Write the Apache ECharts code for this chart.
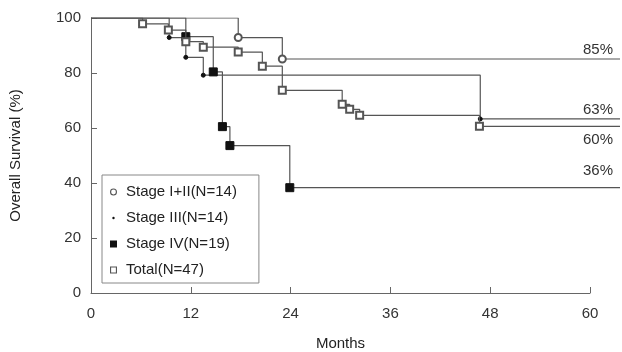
<!DOCTYPE html>
<html><head><meta charset="utf-8">
<script src="https://cdn.jsdelivr.net/npm/echarts@6/dist/echarts.min.js"></script>
<style>html,body{margin:0;padding:0;background:#fff}#c{width:622px;height:352px}</style>
</head><body><div id="c"></div>
<script>
// ---- data ----
const seriesNames = ['Stage I+II(N=14)', 'Stage III(N=14)', 'Stage IV(N=19)', 'Total(N=47)'];
const monthsStage12 = [0, 17.7, 23.0, 63.6];
const survStage12   = [100, 92.9, 85.1, 85.1];
const monthsStage3  = [0, 9.4, 11.4, 13.5, 46.8, 63.6];
const survStage3    = [100, 92.9, 85.7, 79.2, 63.3, 63.3];
const monthsStage4  = [0, 11.4, 14.7, 15.8, 16.7, 23.9, 63.6];
const survStage4    = [100, 93.2, 80.4, 60.5, 53.6, 38.3, 38.3];
const monthsTotal   = [0, 6.2, 9.3, 11.4, 13.5, 17.7, 20.6, 23.0, 30.2, 31.1, 32.3, 46.7, 63.6];
const survTotal     = [100, 97.9, 95.6, 91.4, 89.4, 87.6, 82.5, 73.7, 68.6, 66.8, 64.6, 60.6, 60.6];
const endLabels     = ['85%', '63%', '60%', '36%'];
const xTicks = [0, 12, 24, 36, 48, 60];
const yTicks = [0, 20, 40, 60, 80, 100];
const plotEndMonth = 63.6; // curves run a little past the last tick

const chart = echarts.init(document.getElementById('c'), null, {renderer: 'canvas'});
const lineColor = '#555';
const font = 'Liberation Sans, Arial, sans-serif';

function buildData(t, s) {
  return t.map((x, i) => {
    const d = {value: [x, s[i]]};
    if (i === 0 || i === t.length - 1) d.symbol = 'none';
    return d;
  });
}
const ringPath = 'path://M5,0A5,5,0,1,1,4.99,0ZM5,1.6A3.4,3.4,0,1,0,5.01,1.6Z';
const dotPath  = 'path://M0,0M10,10M5,3.3A1.7,1.7,0,1,1,4.99,3.3Z';
const sqPath   = 'path://M0,0H10V10H0Z';
const sqRing   = 'path://M0,0H10V10H0ZM1.6,1.6V8.4H8.4V1.6Z';
const styles = [
  {symbol: 'emptyCircle', symbolSize: 7, color: lineColor, icon: ringPath},
  {symbol: 'circle', symbolSize: 4, color: '#111', icon: dotPath},
  {symbol: 'rect', symbolSize: 8, color: '#111', icon: sqPath},
  {symbol: 'emptyRect', symbolSize: 7, color: lineColor, icon: sqRing}
];
const all = [[monthsStage12, survStage12], [monthsStage3, survStage3], [monthsStage4, survStage4], [monthsTotal, survTotal]];

const series = all.map((p, i) => ({
  name: seriesNames[i],
  type: 'line',
  step: 'end',
  xAxisIndex: 0, yAxisIndex: 0,
  data: buildData(p[0], p[1]),
  symbol: styles[i].symbol,
  symbolSize: styles[i].symbolSize,
  showAllSymbol: true,
  lineStyle: {color: lineColor, width: 1.2},
  itemStyle: {color: styles[i].color, borderColor: styles[i].color, borderWidth: 1},
  z: 2 + i
}));

chart.setOption({
  animation: false,
  backgroundColor: '#fff',
  grid: [
    {left: 91, right: 2, top: 18, bottom: 59, outerBoundsMode: 'none', containLabel: false},
    {left: 91, right: 32, top: 18, bottom: 59, outerBoundsMode: 'none', containLabel: false}
  ],
  legend: {
    orient: 'vertical', left: 102, top: 175,
    backgroundColor: '#fff', borderColor: '#888', borderWidth: 1,
    padding: [9, 22, 5, 8], itemGap: 10, itemWidth: 7, itemHeight: 7,
    textStyle: {fontFamily: font, fontSize: 15, color: '#222', lineHeight: 16, padding: [0, 0, 0, 4]},
    data: seriesNames.map((n, i) => ({name: n, icon: styles[i].icon, itemStyle: {color: styles[i].color, borderWidth: 0}}))
  },
  xAxis: [
    {type: 'value', gridIndex: 0, min: 0, max: plotEndMonth, show: false},
    {
      type: 'value', gridIndex: 1, min: xTicks[0], max: xTicks[xTicks.length - 1], interval: 12,
      name: 'Months', nameLocation: 'middle', nameGap: 43,
      nameTextStyle: {fontFamily: font, fontSize: 15, color: '#222'},
      axisLine: {lineStyle: {color: '#666'}},
      axisTick: {inside: true, length: 6, lineStyle: {color: '#666'}},
      axisLabel: {fontFamily: font, fontSize: 15, color: '#333', margin: 13},
      splitLine: {show: false}
    }
  ],
  yAxis: [
    {
      type: 'value', gridIndex: 0, min: yTicks[0], max: yTicks[yTicks.length - 1], interval: 20,
      name: 'Overall Survival (%)', nameLocation: 'middle', nameGap: 68, nameRotate: 90,
      nameTextStyle: {fontFamily: font, fontSize: 15, color: '#222'},
      axisLine: {show: true, lineStyle: {color: '#666'}},
      axisTick: {show: true, inside: true, length: 6, lineStyle: {color: '#666'}},
      axisLabel: {fontFamily: font, fontSize: 15, color: '#333', margin: 10},
      splitLine: {show: false}
    },
    {type: 'value', gridIndex: 1, min: 0, max: 100, show: false}
  ],
  series: series
});

const lastVals = [survStage12, survStage3, survTotal, survStage4].map(a => a[a.length - 1]);
const offs = [-10, -10, 13, -17];
const graphics = endLabels.map((t, i) => {
  const y = chart.convertToPixel({xAxisIndex: 0, yAxisIndex: 0}, [60, lastVals[i]])[1];
  return {type: 'text', right: 9, top: y + offs[i] - 7,
    style: {text: t, fontFamily: font, fontSize: 15, fill: '#333'}};
});
chart.setOption({graphic: graphics});
</script></body></html>
